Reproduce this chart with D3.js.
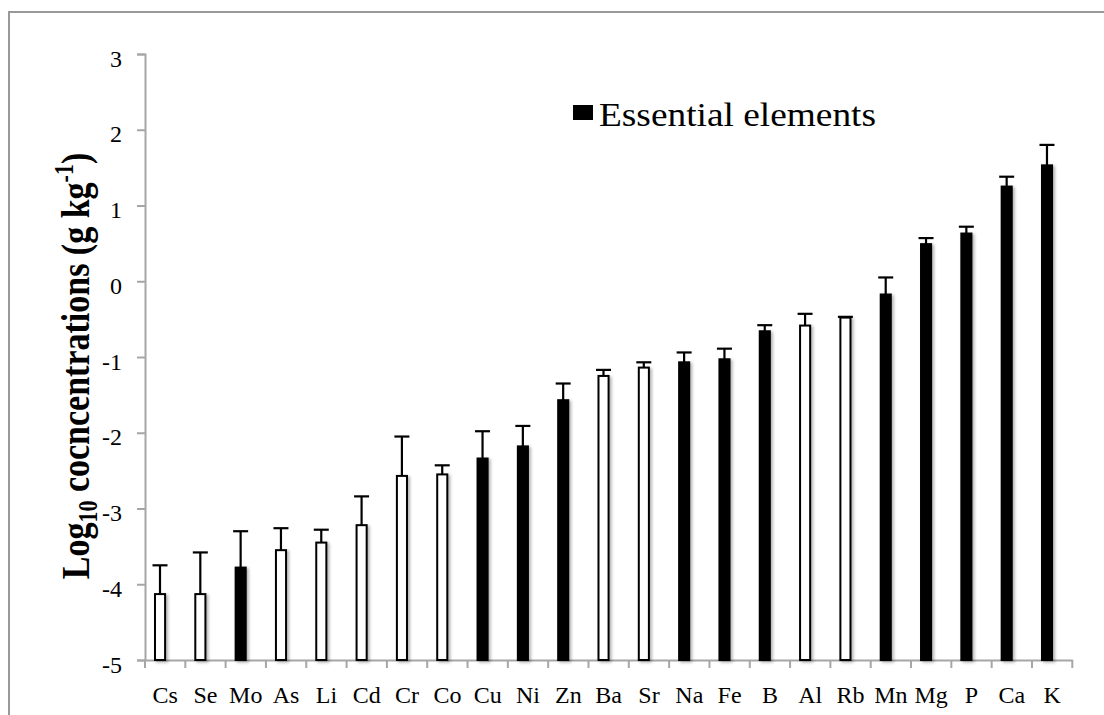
<!DOCTYPE html>
<html>
<head>
<meta charset="utf-8">
<script src="https://cdn.jsdelivr.net/npm/d3@7"></script>
<style>
  body { margin: 0; background: #fff; }
  #chart svg { display: block; }
</style>
</head>
<body>
<div id="chart"></div>
<script>
// element names, log10 mean concentration, upper error (SD), essential flag
const elements = ["Cs", "Se", "Mo", "As", "Li", "Cd", "Cr", "Co", "Cu", "Ni", "Zn", "Ba",
                  "Sr", "Na", "Fe", "B", "Al", "Rb", "Mn", "Mg", "P", "Ca", "K"];
const logConc = [-4.13, -4.13, -3.78, -3.55, -3.45, -3.22, -2.57, -2.55, -2.34, -2.18, -1.57, -1.25,
                 -1.14, -1.07, -1.03, -0.66, -0.585, -0.48, -0.175, 0.49, 0.63, 1.25, 1.53];
const errUp = [0.38, 0.55, 0.48, 0.29, 0.17, 0.38, 0.52, 0.12, 0.36, 0.27, 0.22, 0.08,
               0.07, 0.13, 0.14, 0.08, 0.155, 0.01, 0.225, 0.08, 0.09, 0.13, 0.27];
const essential = [0, 0, 1, 0, 0, 0, 0, 0, 1, 1, 1, 0, 0, 1, 1, 1, 0, 0, 1, 1, 1, 1, 1];
const yTicks = [-5, -4, -3, -2, -1, 0, 1, 2, 3];

(function () {
    const W = 1104, H = 715;
    const font = "'Liberation Serif', 'Times New Roman', serif";
    const axisGrey = "#a6a6a6";

    const data = elements.map((e, i) => ({ el: e, v: logConc[i], err: errUp[i], ess: essential[i] }));

    const svg = d3.select("#chart").append("svg")
        .attr("width", W).attr("height", H)
        .style("font-family", font);

    svg.append("rect").attr("width", W).attr("height", H).attr("fill", "#fff");

    // soft shadow like the excel bars
    const defs = svg.append("defs");
    defs.append("filter").attr("id", "shadow")
        .attr("x", "-50%").attr("y", "-5%").attr("width", "200%").attr("height", "110%")
        .append("feDropShadow")
        .attr("dx", 2).attr("dy", 1.5).attr("stdDeviation", 1.5)
        .attr("flood-color", "#000").attr("flood-opacity", 0.3);

    // outer frame (only left and top visible)
    svg.append("path")
        .attr("d", "M9,720V12H1110")
        .attr("fill", "none").attr("stroke", "#999").attr("stroke-width", 2);

    const xScale = d3.scaleBand()
        .domain(elements)
        .range([145, 1072.3])
        .padding(0);

    const yScale = d3.scaleLinear()
        .domain([-5, 3])
        .range([660, 54]);

    const bw = xScale.bandwidth();
    const barX = d => xScale(d.el) + bw * 0.248;
    const barW = bw * 0.25;
    const midX = d => xScale(d.el) + bw * 0.372;

    // y axis
    const yAxis = d3.axisLeft(yScale).tickValues(yTicks).tickSize(8).tickPadding(15)
        .tickFormat(d => String(d));
    const gy = svg.append("g").attr("transform", "translate(145,0)").call(yAxis);
    gy.select(".domain").attr("stroke", axisGrey).attr("stroke-width", 2);
    gy.selectAll(".tick line").attr("stroke", axisGrey).attr("stroke-width", 2);
    gy.selectAll(".tick text")
        .attr("font-family", font).attr("font-size", "24px").attr("fill", "#000")
        .attr("dy", "0.5em");

    // x axis: labels at band centres, tick marks at band edges
    const xAxis = d3.axisBottom(xScale).tickSize(0).tickPadding(26).tickSizeOuter(0);
    const gx = svg.append("g").attr("transform", "translate(0,660)").call(xAxis);
    gx.select(".domain").attr("stroke", axisGrey).attr("stroke-width", 2);
    gx.selectAll(".tick text")
        .attr("font-family", font).attr("font-size", "24px").attr("fill", "#000");

    const edges = elements.map(e => xScale(e)).concat([xScale.range()[1]]);
    gx.selectAll(".edge")
        .data(edges)
        .enter().append("line")
        .attr("class", "edge")
        .attr("x1", d => d).attr("x2", d => d)
        .attr("y1", 0).attr("y2", 8)
        .attr("stroke", axisGrey).attr("stroke-width", 2);

    // bars grow from the bottom of the axis (-5)
    svg.append("g").attr("filter", "url(#shadow)")
        .selectAll(".bar")
        .data(data)
        .enter().append("rect")
        .attr("class", "bar")
        .attr("x", barX)
        .attr("y", d => yScale(d.v))
        .attr("width", barW)
        .attr("height", d => yScale(-5) - yScale(d.v))
        .attr("fill", d => d.ess ? "#000" : "#fff")
        .attr("stroke", "#000")
        .attr("stroke-width", 2);

    // error bars (upper only)
    const eb = svg.append("g").attr("stroke", "#000").attr("stroke-width", 2.2);
    eb.selectAll(".err")
        .data(data)
        .enter().append("line")
        .attr("x1", midX).attr("x2", midX)
        .attr("y1", d => yScale(d.v))
        .attr("y2", d => yScale(d.v + d.err));
    eb.selectAll(".cap")
        .data(data)
        .enter().append("line")
        .attr("x1", d => midX(d) - 7.5).attr("x2", d => midX(d) + 7.5)
        .attr("y1", d => yScale(d.v + d.err))
        .attr("y2", d => yScale(d.v + d.err));

    // legend
    svg.append("rect")
        .attr("x", 573).attr("y", 105).attr("width", 20).attr("height", 15)
        .attr("fill", "#000");
    svg.append("text")
        .attr("x", 599).attr("y", 126)
        .attr("font-family", font)
        .attr("font-size", "33px")
        .attr("textLength", 277).attr("lengthAdjust", "spacingAndGlyphs")
        .text("Essential elements");

    // y axis title (glyphs a bit taller across, like the stretched original)
    const title = svg.append("text")
        .attr("transform", "translate(89,366) rotate(-90) scale(1,1.2)")
        .attr("text-anchor", "middle")
        .attr("font-family", font)
        .attr("font-size", "34px")
        .attr("font-weight", "bold");
    title.append("tspan").text("Log");
    title.append("tspan").attr("font-size", "22px").attr("dy", 7).text("10");
    title.append("tspan").attr("dy", -7).text(" cocncentrations (g kg");
    title.append("tspan").attr("font-size", "22px").attr("dy", -13).text("-1");
    title.append("tspan").attr("dy", 13).text(")");
})();
</script>
</body>
</html>
